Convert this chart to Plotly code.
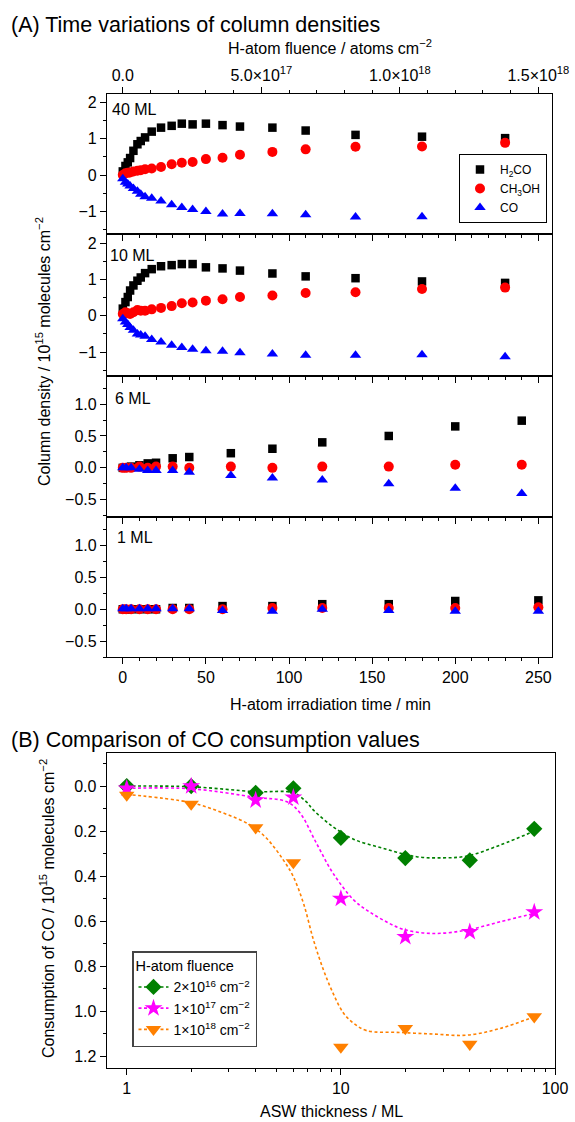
import plotly.graph_objects as go

W, H = 575, 1122
def px(x): return x / W
def py(y): return 1 - y / H

FONT = "Liberation Sans, Arial, sans-serif"
TICK = 16
TITLE = 16

# ---------------- Panel A data ----------------
t_thick = [0, 1.6, 3, 4.4, 6.4, 8.8, 10.8, 13.4, 17.4, 23, 29.4, 35.5, 42, 50, 60, 70.5, 90, 110, 140, 180, 230]
h2co_40 = [0.1, 0.25, 0.35, 0.47, 0.67, 0.85, 0.94, 1.04, 1.2, 1.31, 1.36, 1.42, 1.40, 1.42, 1.38, 1.34, 1.31, 1.23, 1.11, 1.06, 1.02]
ch3oh_40 = [0.0, 0.05, 0.06, 0.07, 0.1, 0.12, 0.13, 0.16, 0.18, 0.22, 0.3, 0.34, 0.36, 0.44, 0.48, 0.56, 0.64, 0.71, 0.78, 0.79, 0.89]
co_40 = [-0.1, -0.2, -0.25, -0.3, -0.37, -0.45, -0.53, -0.6, -0.64, -0.72, -0.82, -0.9, -0.95, -1.01, -1.08, -1.06, -1.07, -1.1, -1.16, -1.15, -1.19]

h2co_10 = [0.2, 0.38, 0.52, 0.7, 0.84, 0.97, 1.06, 1.18, 1.29, 1.37, 1.4, 1.43, 1.43, 1.34, 1.31, 1.25, 1.17, 1.09, 1.04, 0.95, 0.91]
ch3oh_10 = [0.05, 0.1, 0.07, 0.05, 0.1, 0.16, 0.14, 0.14, 0.18, 0.22, 0.27, 0.35, 0.37, 0.42, 0.46, 0.52, 0.56, 0.63, 0.65, 0.74, 0.78]
co_10 = [-0.08, -0.17, -0.24, -0.32, -0.4, -0.5, -0.53, -0.56, -0.65, -0.72, -0.81, -0.87, -0.92, -0.96, -0.98, -1.02, -1.05, -1.09, -1.09, -1.07, -1.13]

t_6 = [0, 2, 5, 10, 15, 20, 30, 40, 65, 90, 120, 160, 200, 240]
h2co_6 = [0, 0.01, 0.02, 0.04, 0.07, 0.08, 0.15, 0.17, 0.23, 0.3, 0.4, 0.5, 0.65, 0.74]
ch3oh_6 = [0, 0, 0, 0.02, 0, 0.02, 0.02, 0, 0.02, 0, 0.02, 0.02, 0.05, 0.05]
co_6 = [0, 0, 0, -0.02, -0.04, -0.04, -0.04, -0.07, -0.12, -0.16, -0.19, -0.25, -0.32, -0.4]

t_1 = [0, 2, 5, 10, 15, 20, 30, 40, 60, 90, 120, 160, 200, 250]
h2co_1 = [0, 0, 0, 0, 0, 0, 0.02, 0.02, 0.05, 0.05, 0.08, 0.08, 0.13, 0.14]
ch3oh_1 = [0, 0, 0, 0, 0, 0, 0, 0, 0, 0.02, 0.02, 0.02, 0.02, 0.03]
co_1 = [0.01, 0.01, 0.01, 0.01, 0.01, 0.01, 0.01, 0.01, -0.02, -0.03, 0, -0.02, -0.03, -0.03]

panel_labels = ["40 ML", "10 ML", "6 ML", "1 ML"]
species_names = ["H<sub>2</sub>CO", "CH<sub>3</sub>OH", "CO"]

FLUENCE_PER_MIN = 6e15
t_range = [-9.5, 258.2]
fluence_tickvals = [0, 5e17, 1e18, 1.5e18]
fluence_ticktext = ["0.0", "5.0×10<sup>17</sup>", "1.0×10<sup>18</sup>", "1.5×10<sup>18</sup>"]

# ---------------- Panel B data ----------------
thickness = [1, 2, 4, 6, 10, 20, 40, 80]
cons_2e16 = [0.0, 0.0, 0.03, 0.01, 0.23, 0.32, 0.33, 0.19]
cons_1e17 = [0.01, 0.0, 0.063, 0.05, 0.50, 0.67, 0.648, 0.56]
cons_1e18 = [0.04, 0.08, 0.185, 0.34, 1.16, 1.077, 1.147, 1.025]

# fitted curves
fit_x_2e16 = [1, 2, 4, 6, 6.9, 7.45, 9.2, 11.4, 15.8, 22.6, 30, 38.8, 55.5, 80]
fit_y_2e16 = [0.0, 0.003, 0.025, 0.03, 0.07, 0.107, 0.181, 0.235, 0.277, 0.314, 0.319, 0.311, 0.262, 0.2]
fit_x_1e17 = [1, 2, 4, 5.6, 6.45, 7.7, 9.2, 11.5, 13.2, 15.8, 19.6, 27, 38.8, 55.5, 80]
fit_y_1e17 = [0.01, 0.012, 0.05, 0.07, 0.12, 0.255, 0.388, 0.507, 0.551, 0.596, 0.637, 0.655, 0.64, 0.603, 0.566]
fit_x_1e18 = [1, 2, 2.83, 3.77, 4.5, 5.4, 6.0, 6.69, 7.45, 8.3, 9.2, 10.3, 11.5, 13.2, 18.9, 27, 38.8, 55.5, 80]
fit_y_1e18 = [0.037, 0.074, 0.12, 0.173, 0.232, 0.33, 0.403, 0.521, 0.684, 0.818, 0.921, 1.01, 1.055, 1.087, 1.095, 1.102, 1.107, 1.077, 1.025]

fluence_names = ["2×10<sup>16</sup> cm<sup>−2</sup>", "1×10<sup>17</sup> cm<sup>−2</sup>", "1×10<sup>18</sup> cm<sup>−2</sup>"]

# ---------------- Figure ----------------
fig = go.Figure()

panels = [
    (t_thick, h2co_40, ch3oh_40, co_40),
    (t_thick, h2co_10, ch3oh_10, co_10),
    (t_6, h2co_6, ch3oh_6, co_6),
    (t_1, h2co_1, ch3oh_1, co_1),
]
sp_styles = [
    dict(symbol="square", color="#000000", size=8.5),
    dict(symbol="circle", color="#ff0000", size=10),
    dict(symbol="triangle-up", color="#0000ff", size=10),
]

for i, (tt, a, b, c) in enumerate(panels):
    xa = "x" if i == 0 else f"x{i+1}"
    ya = "y" if i == 0 else f"y{i+1}"
    for j, vals in enumerate([a, b, c]):
        st = sp_styles[j]
        fig.add_trace(go.Scatter(
            x=tt, y=vals, mode="markers", xaxis=xa, yaxis=ya,
            name=species_names[j], showlegend=(i == 0), legend="legend",
            marker=dict(symbol=st["symbol"], color=st["color"], size=st["size"], line=dict(width=0)),
        ))

# empty trace so the top fluence axis is drawn
fig.add_trace(go.Scatter(x=[None], y=[None], xaxis="x5", yaxis="y", showlegend=False, hoverinfo="skip"))

# Panel B
b_sets = [
    (cons_2e16, fit_x_2e16, fit_y_2e16, "#008000", "diamond", 12.5),
    (cons_1e17, fit_x_1e17, fit_y_1e17, "#ff00ff", "star", 13.5),
    (cons_1e18, fit_x_1e18, fit_y_1e18, "#ff8000", "triangle-down", 13.5),
]
for k, (vals, fx, fy, col, sym, sz) in enumerate(b_sets):
    fig.add_trace(go.Scatter(
        x=fx, y=fy, mode="lines", xaxis="x6", yaxis="y6", showlegend=False,
        line=dict(color=col, width=1.6, dash="3px,2.5px", shape="spline", smoothing=1.0),
    ))
    fig.add_trace(go.Scatter(
        x=thickness, y=vals, mode="markers", xaxis="x6", yaxis="y6", showlegend=False,
        marker=dict(symbol=sym, color=col, size=sz, line=dict(width=0)),
    ))
    fig.add_trace(go.Scatter(
        x=[None], y=[None], mode="lines+markers", xaxis="x6", yaxis="y6",
        name=fluence_names[k], legend="legend2",
        line=dict(color=col, width=1.6, dash="3px,2.5px"),
        marker=dict(symbol=sym, color=col, size=sz, line=dict(width=0)),
    ))

axis_common = dict(
    showline=True, linecolor="black", linewidth=1.2, mirror=True,
    ticks="outside", ticklen=6, tickwidth=1, tickcolor="black",
    showgrid=False, zeroline=False, automargin=False,
    tickfont=dict(family=FONT, size=TICK, color="black"),
)

rows = [(94, 234), (234, 376), (376, 517), (517, 657)]
yranges = [[-1.63, 2.24], [-1.66, 2.26], [-0.77, 1.44], [-0.75, 1.45]]
ydt = [1, 1, 0.5, 0.5]
ymin = [0.5, 0.5, 0.25, 0.25]
yfmt = ["", "", ".1f", ".1f"]

layout = dict(
    width=W, height=H, autosize=False,
    margin=dict(l=0, r=0, t=0, b=0, pad=0, autoexpand=False),
    paper_bgcolor="white", plot_bgcolor="white",
    font=dict(family=FONT, color="black"),
)

for i in range(4):
    xk = "xaxis" if i == 0 else f"xaxis{i+1}"
    yk = "yaxis" if i == 0 else f"yaxis{i+1}"
    top, bot = rows[i]
    layout[xk] = dict(
        axis_common, domain=[px(107), px(552)], range=t_range,
        anchor="y" if i == 0 else f"y{i+1}",
        tick0=0, dtick=50, showticklabels=(i == 3),
        minor=dict(dtick=10, tick0=0, ticks="outside", ticklen=3, tickcolor="black"),
    )
    layout[yk] = dict(
        axis_common, domain=[py(bot), py(top)], range=yranges[i],
        anchor="x" if i == 0 else f"x{i+1}",
        tick0=0, dtick=ydt[i], tickformat=yfmt[i],
        minor=dict(dtick=ymin[i], tick0=0, ticks="outside", ticklen=3, tickcolor="black"),
    )

layout["xaxis5"] = dict(
    axis_common, overlaying="x", side="top", anchor="y",
    range=[t * FLUENCE_PER_MIN for t in t_range],
    tickmode="array", tickvals=fluence_tickvals, ticktext=fluence_ticktext,
    minor=dict(tickmode="array", tickvals=[k * 1e17 for k in range(16) if k % 5],
               ticks="outside", ticklen=3, tickcolor="black"),
)

layout["xaxis6"] = dict(
    axis_common, domain=[px(106.7), px(555)], type="log", range=[-0.0935, 2.0],
    anchor="y6", tickmode="array", tickvals=[1, 10, 100], ticktext=["1", "10", "100"],
    minor=dict(tickmode="array",
               tickvals=[m * d for d in (1, 10) for m in range(2, 10)],
               ticks="outside", ticklen=3, tickcolor="black"),
)
layout["yaxis6"] = dict(
    axis_common, domain=[py(1068), py(753)], range=[1.253, -0.147],
    anchor="x6", tick0=0, dtick=0.2, tickformat=".1f",
    minor=dict(dtick=0.1, tick0=0, ticks="outside", ticklen=3, tickcolor="black"),
)

layout["legend"] = dict(
    x=px(547), y=py(154), xanchor="right", yanchor="top",
    bordercolor="black", borderwidth=1, bgcolor="white",
    font=dict(family=FONT, size=12, color="black"), tracegroupgap=0,
)
layout["legend2"] = dict(
    x=px(132), y=py(951), xanchor="left", yanchor="top",
    bordercolor="#444", borderwidth=1.5, bgcolor="white",
    title=dict(text="H-atom fluence", font=dict(family=FONT, size=14.5, color="black")),
    font=dict(family=FONT, size=14, color="black"), tracegroupgap=0,
)

def ann(text, x, y, size, xanchor="center", angle=0):
    return dict(text=text, x=px(x), y=py(y), xref="paper", yref="paper",
                xanchor=xanchor, yanchor="middle", showarrow=False, textangle=angle,
                font=dict(family=FONT, size=size, color="black"))

annotations = [
    ann("(A) Time variations of column densities", 9, 25, 21.5, "left"),
    ann("H-atom fluence / atoms cm<sup>−2</sup>", 330, 47, TITLE),
    ann("H-atom irradiation time / min", 330, 704, TITLE),
    ann("Column density / 10<sup>15</sup> molecules cm<sup>−2</sup>", 43, 352, TITLE, angle=-90),
    ann("(B) Comparison of CO consumption values", 9, 740, 21.5, "left"),
    ann("ASW thickness / ML", 331, 1111, TITLE),
    ann("Consumption of CO / 10<sup>15</sup> molecules cm<sup>−2</sup>", 47, 909, TITLE, angle=-90),
]
label_pos = [(110, 109), (108, 255), (113, 398), (115, 537)]
for lab, (lx, ly) in zip(panel_labels, label_pos):
    annotations.append(ann(lab, lx, ly, 16, "left"))
layout["annotations"] = annotations

fig.update_layout(**layout)

post = "document.body.style.margin='0px';document.body.style.overflow='hidden';"
fig.write_html("out.html", config={"displayModeBar": False}, post_script=post)
